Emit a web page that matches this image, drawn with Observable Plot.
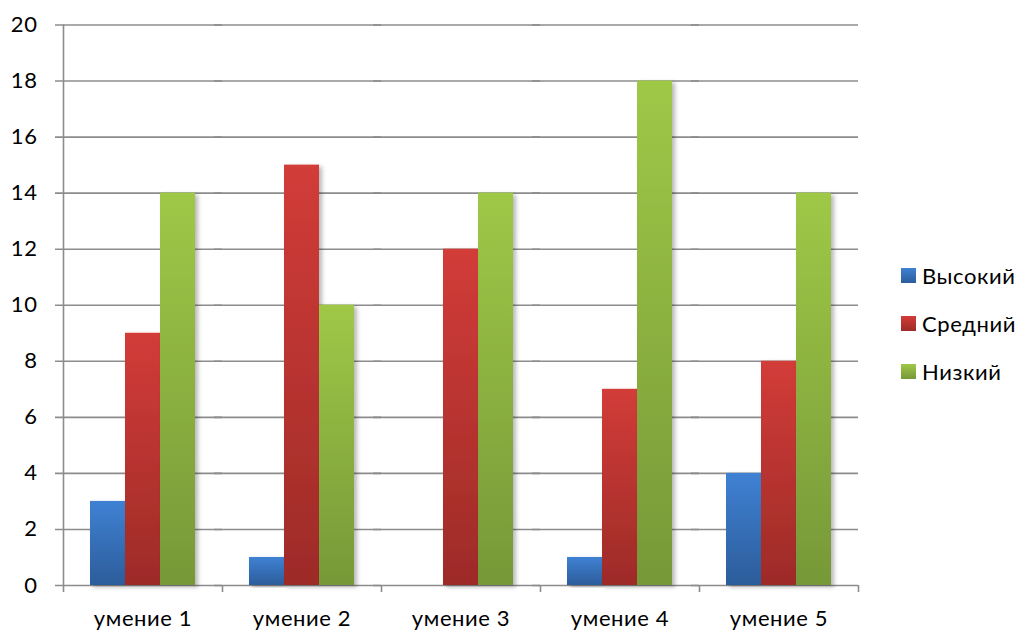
<!DOCTYPE html>
<html>
<head>
<meta charset="utf-8">
<script src="https://cdn.jsdelivr.net/npm/d3@7"></script>
<script src="https://cdn.jsdelivr.net/npm/@observablehq/plot@0.6"></script>
<style>
  html, body { margin: 0; padding: 0; background: #fff; }
  #chart { position: relative; width: 1023px; height: 631px; font-family: Lato, "Open Sans", sans-serif; }
  #chart svg { display: block; }
  .legend { position: absolute; left: 901px; top: 0; }
  .legend .item { position: absolute; left: 0; height: 24px; display: flex; align-items: center; white-space: nowrap; font-size: 22px; letter-spacing: 0.6px; color: #000; }
  .legend .swatch { width: 15px; height: 15px; margin-right: 6px; }
</style>
</head>
<body>
<div id="chart"></div>
<script>
// Skills and their counts per level
const skills = ["умение 1", "умение 2", "умение 3", "умение 4", "умение 5"];
const levels = ["Высокий", "Средний", "Низкий"];
const high = [3, 1, 0, 1, 4];
const medium = [9, 15, 12, 7, 8];
const low = [14, 10, 14, 18, 14];
const yTicks = [0, 2, 4, 6, 8, 10, 12, 14, 16, 18, 20];

// top / bottom colours of each level's gradient
const gradientStops = [
  ["#3f81d3", "#2c5d9b"],
  ["#d23c38", "#9d2b28"],
  ["#9fc847", "#779838"]
];

const series = [high, medium, low];
const rows = skills.flatMap((skill, i) =>
  levels.map((level, j) => ({skill, level, value: series[j][i]}))
);

const W = 1023, H = 631;
const mL = 63, mR = 165, mT = 24.5, mB = 46;
const facetW = (W - mL - mR) / skills.length;
const gridColor = "#8c8c8c";

const plot = Plot.plot({
  width: W,
  height: H,
  marginLeft: mL,
  marginRight: mR,
  marginTop: mT,
  marginBottom: mB,
  style: {fontFamily: "Lato, 'Open Sans', sans-serif", fontSize: "22px", letterSpacing: "0.6px", color: "#000", background: "#fff"},
  fx: {domain: skills, padding: 0},
  x: {domain: levels, paddingInner: 0, paddingOuter: 0.74, axis: null},
  y: {domain: [0, 20]},
  color: {domain: levels, range: levels.map((_, i) => `url(#bar-grad-${i})`)},
  marks: [
    // horizontal gridlines, reaching a little left of the axis as ticks
    Plot.ruleY(yTicks, {stroke: gridColor, strokeWidth: 1.6, insetLeft: -8}),
    // vertical value axis line
    Plot.ruleX([skills[0]], {fx: (d) => d, x: null, y1: 20, y2: 0, insetBottom: -7, dx: -facetW / 2, stroke: gridColor, strokeWidth: 1.6}),
    // category separators below the baseline
    Plot.ruleX(skills.slice(1), {fx: (d) => d, x: null, y1: 0, y2: 0, insetBottom: -7, dx: -facetW / 2, stroke: gridColor, strokeWidth: 1.6}),
    Plot.ruleX([skills[skills.length - 1]], {fx: (d) => d, x: null, y1: 0, y2: 0, insetBottom: -7, dx: facetW / 2, stroke: gridColor, strokeWidth: 1.6}),
    Plot.barY(rows, {fx: "skill", x: "level", y: "value", fill: "level"}),
    Plot.axisY(yTicks, {tickSize: 0, tickPadding: 26, fontSize: 22, fill: "#000", label: null}),
    Plot.axisFx({anchor: "bottom", tickSize: 0, tickPadding: 25, fontSize: 22, fill: "#000", label: null})
  ]
});

// gradients and soft shadow for the bars
const svg = d3.select(plot);
const defs = svg.insert("defs", ":first-child");
gradientStops.forEach(([top, bottom], i) => {
  const g = defs.append("linearGradient")
    .attr("id", `bar-grad-${i}`)
    .attr("x1", 0).attr("y1", 0).attr("x2", 0).attr("y2", 1);
  g.append("stop").attr("offset", "0%").attr("stop-color", top);
  g.append("stop").attr("offset", "100%").attr("stop-color", bottom);
});
const shadow = defs.append("filter")
  .attr("id", "bar-shadow")
  .attr("x", "-20%").attr("y", "-5%").attr("width", "150%").attr("height", "115%");
shadow.append("feDropShadow")
  .attr("dx", 3).attr("dy", 2).attr("stdDeviation", 2.2)
  .attr("flood-color", "#000").attr("flood-opacity", 0.28);
svg.selectAll('g[aria-label="bar"] rect').attr("filter", "url(#bar-shadow)");

const chart = document.getElementById("chart");
chart.appendChild(plot);

// legend on the right
const legend = d3.select(chart).append("div").attr("class", "legend");
const rowCenters = [275.5, 323.5, 371.5];
levels.forEach((level, i) => {
  const item = legend.append("div").attr("class", "item").style("top", `${rowCenters[i] - 12}px`);
  item.append("div").attr("class", "swatch")
    .style("background", `linear-gradient(${gradientStops[i][0]}, ${gradientStops[i][1]})`);
  item.append("span").text(level);
});
</script>
</body>
</html>
